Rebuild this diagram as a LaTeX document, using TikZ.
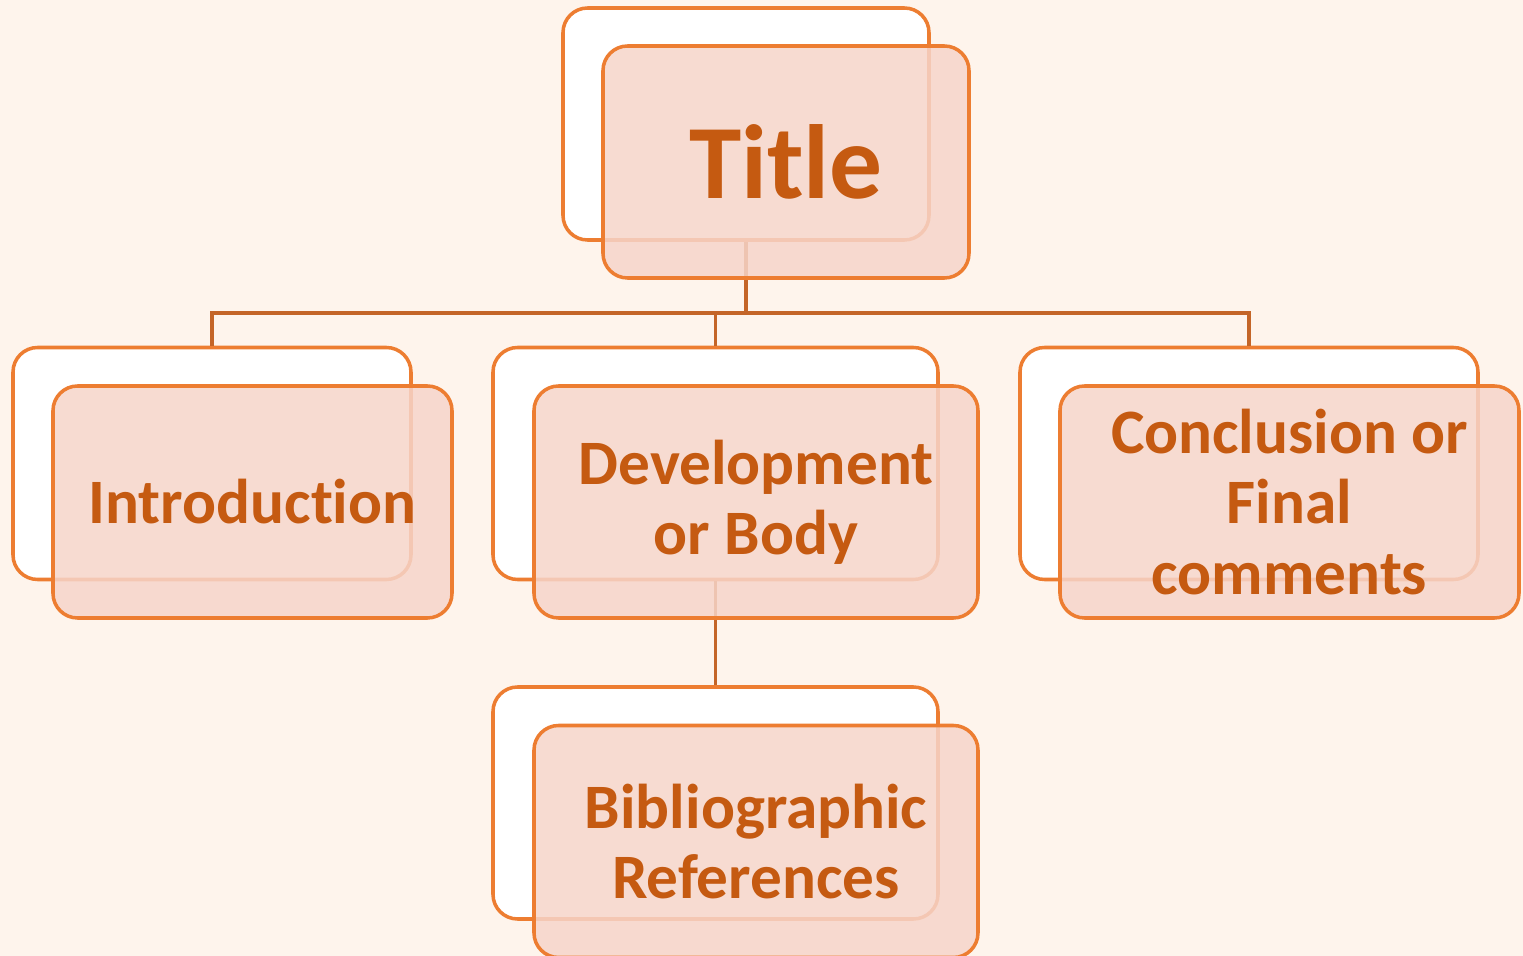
\documentclass[tikz,border=0pt]{standalone}
\usepackage{fontspec}
\setmainfont[Ligatures=NoCommon]{Carlito}
\usetikzlibrary{positioning,calc}
\definecolor{pagebg}{RGB}{254,244,236}
\definecolor{accentorange}{RGB}{237,125,49}
\definecolor{textorange}{RGB}{197,90,17}
\definecolor{linkorange}{RGB}{196,101,40}
\definecolor{cardpink}{RGB}{246,213,202}
\tikzset{
    % Back card (white, behind)
    backcard/.style={
        rectangle, draw=accentorange, line width=1pt, fill=white,
        minimum height=2.32cm,
        rounded corners=7pt
    },
    % Front card (pink, semi transparent)
    frontcard/.style={
        rectangle, draw=accentorange, line width=1pt, fill=cardpink,
        fill opacity=0.85, text opacity=1,
        minimum height=2.32cm,
        rounded corners=7pt, align=center,
        text=textorange, font=\bfseries\fontsize{18}{20}\selectfont
    },
    % Connector style
    link/.style={
        draw=linkorange, line width=1pt
    }
}

\begin{document}
\begin{tikzpicture}

% Page background
\fill[pagebg] (0,0) rectangle (15.23,-9.56);
\useasboundingbox (0,0) rectangle (15.23,-9.56);

% Back cards
\node[backcard, minimum width=3.66cm] (titleback) at (7.46,-1.24) {};
\node[backcard, minimum width=3.98cm] (introback) at (2.12,-4.635) {};
\node[backcard, minimum width=4.45cm] (devback) at (7.155,-4.635) {};
\node[backcard, minimum width=4.58cm] (conclback) at (12.49,-4.635) {};
\node[backcard, minimum width=4.45cm] (bibback) at (7.155,-8.03) {};

% Connectors
\coordinate (hub) at (7.46,-3.13);
\draw[link] (titleback.south) -- (hub);
\draw[link] (hub) -| (introback.north);
\draw[link] (hub) -| (devback.north);
\draw[link] (hub) -| (conclback.north);
\draw[link] (devback.south) -- (bibback.north);

% Front cards
\node[frontcard, minimum width=3.66cm, font=\bfseries\fontsize{30}{36}\selectfont]
    (title) at ($(titleback.center)+(0.40,-0.38)$) {Title};
\node[frontcard, minimum width=3.99cm] (intro) at ($(introback.center)+(0.405,-0.385)$) {Introduction};
\node[frontcard, minimum width=4.44cm] (dev) at ($(devback.center)+(0.405,-0.385)$) {Development\\or Body};
\node[frontcard, minimum width=4.59cm] (concl) at ($(conclback.center)+(0.405,-0.385)$) {Conclusion or\\Final\\comments};
\node[frontcard, minimum width=4.44cm] (bib) at ($(bibback.center)+(0.405,-0.385)$) {Bibliographic\\References};

\end{tikzpicture}
\end{document}
